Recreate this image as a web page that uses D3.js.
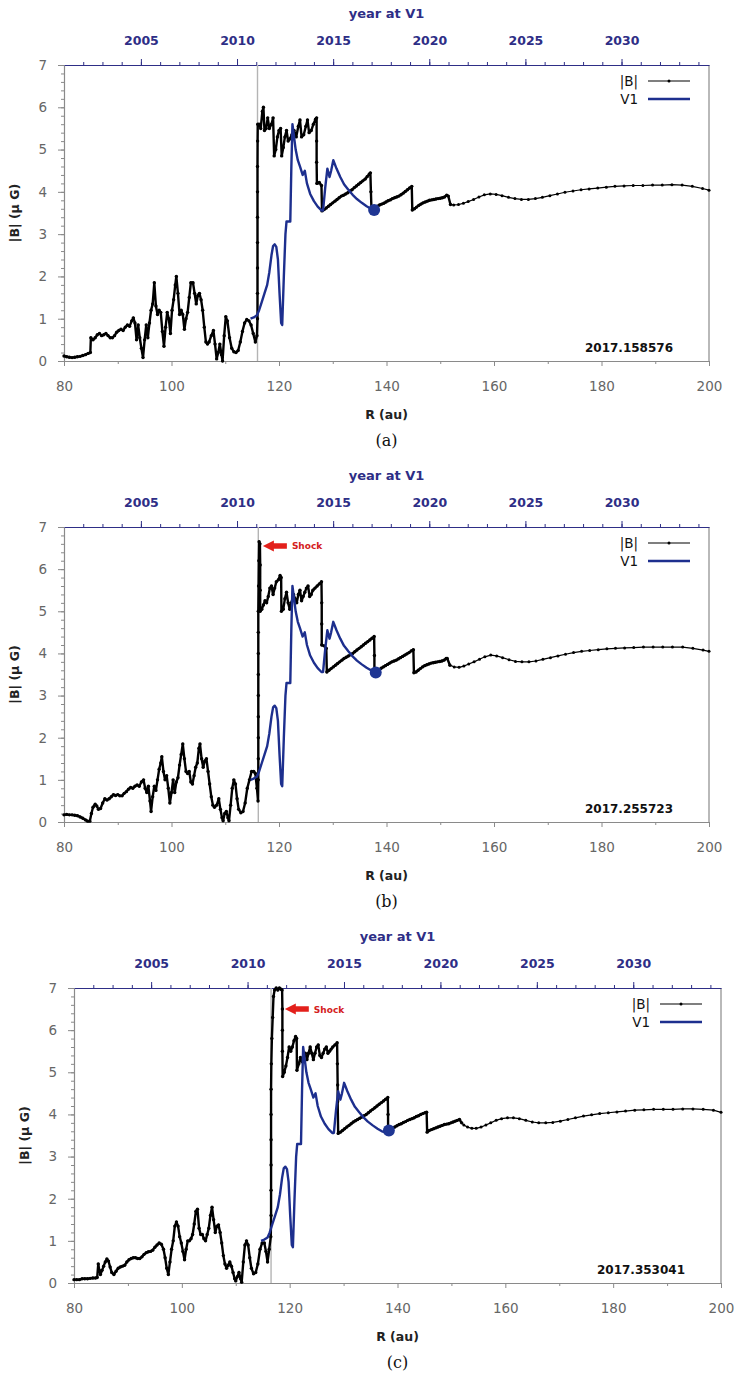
<!DOCTYPE html>
<html>
<head>
<meta charset="utf-8">
<script src="https://d3js.org/d3.v7.min.js"></script>
<style>
  body { margin: 0; background: #fff; }
  svg { display: block; }
</style>
</head>
<body>
<svg id="fig" width="737" height="1375"></svg>
<script>
// axis ticks
const rTicks = [80, 100, 120, 140, 160, 180, 200];
const rMinor = [90, 110, 130, 150, 170, 190];
const bTicks = [0, 1, 2, 3, 4, 5, 6, 7];
const yearTicks = [2005, 2010, 2015, 2020, 2025, 2030];
const yearRange = [2001.0, 2034.55];

// per-panel labels / markers
const timeLabels = ['2017.158576', '2017.255723', '2017.353041'];
const captions = ['(a)', '(b)', '(c)'];
const shockR = [116.0, 116.15, 116.55];
const dotR = [137.7, 138.0, 138.4];
const dotB = [3.57, 3.55, 3.62];
const shockArrow = [null, [117.0, 6.55], [119.1, 6.5]];
const denseLimit = 152; // simulation grid is much finer inside this radius

// V1 observations [R (au), |B| (uG)]
const v1 = [[114.7,1.0],[115.3,1.03],[115.9,1.08],[116.3,1.2],[116.8,1.4],[117.3,1.6],[117.8,1.8],[118.2,2.1],[118.6,2.5],[118.9,2.72],[119.2,2.76],[119.5,2.7],[119.8,2.4],[120.1,1.6],[120.4,0.9],[120.6,0.85],[120.9,2.0],[121.2,3.0],[121.4,3.3],[122.1,3.3],[122.3,4.6],[122.5,5.6],[122.8,5.3],[123.1,5.0],[123.5,4.75],[123.9,4.6],[124.4,4.4],[124.8,4.5],[125.2,4.2],[125.8,3.95],[126.5,3.78],[127.2,3.65],[127.9,3.56],[128.2,3.56],[128.6,4.1],[129.0,4.55],[129.4,4.35],[129.7,4.5],[130.1,4.75],[130.7,4.55],[131.4,4.35],[132.1,4.18],[132.9,4.05],[133.7,3.93],[134.5,3.83],[135.4,3.74],[136.3,3.66],[137.1,3.6],[137.9,3.57],[138.6,3.6]];

// model |B| along the V1 direction, panel (a)
const bA = [[80.0,0.12],[80.5,0.1],[81.0,0.09],[81.5,0.08],[82.0,0.09],[82.5,0.1],[83.0,0.11],[83.5,0.13],[84.0,0.15],[84.5,0.18],[84.9,0.2],[85.0,0.55],[85.4,0.5],[85.8,0.55],[86.2,0.62],[86.6,0.65],[87.0,0.6],[87.4,0.62],[87.8,0.65],[88.2,0.6],[88.6,0.55],[89.0,0.55],[89.4,0.6],[89.8,0.68],[90.2,0.72],[90.6,0.75],[91.0,0.72],[91.4,0.8],[91.8,0.85],[92.2,0.82],[92.6,0.95],[92.9,1.02],[93.2,0.9],[93.5,0.5],[93.8,0.85],[94.1,0.55],[94.4,0.3],[94.7,0.08],[95.0,0.5],[95.3,0.85],[95.6,0.55],[95.9,0.9],[96.2,1.2],[96.5,1.35],[96.8,1.85],[97.1,1.3],[97.4,1.1],[97.7,1.2],[98.0,1.15],[98.3,0.7],[98.6,0.35],[98.9,0.8],[99.2,1.15],[99.5,1.0],[99.8,0.65],[100.1,1.2],[100.4,1.45],[100.7,1.8],[100.9,2.0],[101.2,1.6],[101.5,1.1],[101.8,1.2],[102.1,1.1],[102.4,0.75],[102.7,1.0],[103.0,1.15],[103.3,1.5],[103.6,1.85],[104.0,1.85],[104.3,1.6],[104.6,1.35],[104.9,1.55],[105.2,1.6],[105.5,1.45],[105.8,1.2],[106.1,0.8],[106.4,0.45],[106.7,0.4],[107.0,0.45],[107.4,0.6],[107.8,0.72],[108.1,0.4],[108.4,0.05],[108.7,0.2],[109.0,0.4],[109.3,0.15],[109.5,0.0],[109.8,0.6],[110.1,1.05],[110.4,0.95],[110.8,0.55],[111.2,0.3],[111.6,0.22],[112.0,0.2],[112.4,0.25],[112.8,0.45],[113.2,0.7],[113.6,0.9],[114.0,0.98],[114.4,0.95],[114.8,0.85],[115.2,0.65],[115.6,0.45],[115.9,0.6],
  [116.0,1.0],[116.0,1.6],[116.0,2.2],[116.0,2.8],[116.0,3.4],[116.0,4.0],[116.0,4.6],[116.02,5.2],[116.05,5.6],[116.3,5.6],[116.6,5.5],[116.9,5.9],[117.1,6.0],[117.3,5.45],[117.6,5.5],[117.9,5.75],[118.2,5.5],[118.6,5.6],[118.9,5.75],[119.1,4.85],[119.4,5.0],[119.7,5.3],[120.0,5.45],[120.3,5.5],[120.5,4.85],[120.8,5.05],[121.1,5.3],[121.4,5.45],[121.7,5.2],[122.0,5.25],[122.4,5.35],[122.8,5.45],[123.2,5.3],[123.6,5.55],[123.9,5.7],[124.2,5.3],[124.6,5.35],[125.0,5.55],[125.3,5.7],[125.6,5.4],[126.0,5.45],[126.4,5.6],[126.8,5.72],[127.0,5.75],[127.0,5.2],[127.0,4.7],[127.05,4.2],[127.5,4.22],[127.9,4.15],[128.0,3.55],
  [128.4,3.58],[128.8,3.62],[129.2,3.66],[129.6,3.7],[130.0,3.74],[130.4,3.78],[130.8,3.82],[131.2,3.86],[131.6,3.9],[132.0,3.92],[132.4,3.95],[132.8,3.98],[133.2,4.02],[133.6,4.05],[134.0,4.1],[134.4,4.14],[134.8,4.18],[135.2,4.22],[135.6,4.26],[136.0,4.3],[136.4,4.36],[136.8,4.42],[137.0,4.45],[137.1,4.0],[137.2,3.6],
  [137.5,3.6],[137.9,3.62],[138.3,3.66],[138.7,3.69],[139.1,3.71],[139.5,3.73],[139.9,3.76],[140.3,3.79],[140.7,3.81],[141.1,3.84],[141.5,3.86],[141.9,3.88],[142.3,3.9],[142.7,3.93],[143.1,3.97],[143.5,4.01],[143.9,4.05],[144.3,4.09],[144.7,4.13],[144.8,3.57],[145.2,3.6],[145.6,3.64],[146.0,3.68],[146.4,3.71],[146.8,3.74],[147.2,3.76],[147.6,3.78],[148.0,3.8],[148.4,3.81],[148.8,3.82],[149.2,3.83],[149.6,3.84],[150.0,3.85],[150.4,3.86],[150.8,3.88],[151.2,3.92],[151.5,3.9],[151.9,3.7],
  [152.5,3.69],[153.4,3.7],[154.3,3.73],[155.2,3.77],[156.2,3.82],[157.2,3.88],[158.2,3.93],[159.3,3.95],[160.4,3.94],[161.5,3.91],[162.7,3.87],[163.9,3.84],[165.1,3.82],[166.4,3.82],[167.7,3.84],[169.0,3.87],[170.4,3.91],[171.8,3.95],[173.2,3.99],[174.7,4.02],[176.2,4.05],[177.7,4.07],[179.3,4.09],[180.9,4.11],[182.5,4.13],[184.2,4.14],[185.9,4.15],[187.7,4.15],[189.5,4.16],[191.3,4.16],[193.1,4.17],[195.0,4.16],[196.9,4.13],[198.8,4.08],[200.0,4.04]];

// panel (b)
const bB = [[80.0,0.17],[80.5,0.18],[81.0,0.17],[81.5,0.17],[82.0,0.16],[82.5,0.15],[83.0,0.12],[83.5,0.09],[84.0,0.05],[84.4,0.02],[84.8,0.02],[85.1,0.2],[85.4,0.35],[85.8,0.42],[86.1,0.38],[86.4,0.3],[86.8,0.32],[87.2,0.45],[87.6,0.55],[88.0,0.52],[88.4,0.55],[88.8,0.6],[89.2,0.65],[89.6,0.63],[90.0,0.65],[90.4,0.62],[90.8,0.62],[91.2,0.68],[91.6,0.72],[92.0,0.78],[92.4,0.82],[92.8,0.8],[93.2,0.85],[93.6,0.88],[94.0,0.85],[94.4,0.95],[94.8,1.0],[95.1,0.8],[95.4,0.7],[95.7,0.85],[96.0,0.5],[96.2,0.25],[96.5,0.6],[96.8,0.85],[97.1,0.75],[97.4,1.0],[97.7,1.25],[98.0,1.4],[98.2,1.55],[98.5,1.2],[98.8,1.0],[99.1,1.1],[99.4,0.8],[99.7,0.45],[100.0,0.7],[100.3,1.0],[100.6,0.7],[100.9,0.95],[101.2,1.05],[101.5,1.35],[101.8,1.6],[102.1,1.85],[102.4,1.5],[102.7,1.2],[103.0,1.15],[103.3,1.2],[103.6,0.95],[103.9,0.9],[104.2,1.1],[104.5,1.3],[104.8,1.4],[105.1,1.75],[105.3,1.85],[105.6,1.5],[105.9,1.3],[106.2,1.45],[106.5,1.5],[106.8,1.2],[107.1,0.9],[107.4,0.6],[107.7,0.4],[108.0,0.35],[108.4,0.4],[108.8,0.55],[109.1,0.3],[109.4,0.1],[109.6,0.03],[109.9,0.2],[110.2,0.25],[110.5,0.1],[110.7,0.03],[111.0,0.4],[111.3,0.8],[111.6,1.0],[111.9,0.9],[112.2,0.55],[112.5,0.3],[112.9,0.22],[113.3,0.25],[113.7,0.45],[114.1,0.8],[114.5,1.0],[114.9,1.2],[115.3,1.2],[115.6,1.15],[115.9,0.8],[116.1,0.5],
  [116.15,1.0],[116.15,1.5],[116.15,2.0],[116.15,2.5],[116.15,3.0],[116.15,3.5],[116.15,4.0],[116.15,4.5],[116.15,5.0],[116.2,5.6],[116.25,6.2],[116.3,6.65],[116.45,6.6],[116.5,6.1],[116.5,5.5],[116.5,5.0],
  [116.8,5.05],[117.1,5.15],[117.4,5.25],[117.7,5.2],[118.0,5.35],[118.3,5.55],[118.6,5.6],[118.9,5.4],[119.2,5.55],[119.5,5.7],[119.9,5.75],[120.2,5.85],[120.4,5.8],[120.45,5.0],[120.8,5.05],[121.1,5.3],[121.4,5.45],[121.7,5.2],[122.0,5.05],[122.3,5.2],[122.7,5.4],[123.0,5.3],[123.3,5.2],[123.6,5.4],[123.9,5.5],[124.2,5.25],[124.5,5.35],[124.8,5.45],[125.1,5.55],[125.4,5.6],[125.7,5.35],[126.0,5.4],[126.3,5.5],[126.7,5.55],[127.1,5.6],[127.5,5.65],[127.9,5.7],[127.95,5.2],[127.95,4.7],[127.95,4.2],[128.4,4.18],[128.8,4.12],[128.9,3.56],
  [129.3,3.6],[129.7,3.64],[130.1,3.68],[130.5,3.72],[130.9,3.76],[131.3,3.8],[131.7,3.84],[132.1,3.88],[132.5,3.91],[132.9,3.94],[133.3,3.97],[133.7,4.0],[134.1,4.04],[134.5,4.08],[134.9,4.12],[135.3,4.16],[135.7,4.2],[136.1,4.24],[136.5,4.28],[136.9,4.32],[137.3,4.36],[137.7,4.4],[137.75,3.95],[137.75,3.55],
  [138.2,3.57],[138.6,3.61],[139.0,3.65],[139.4,3.68],[139.8,3.71],[140.2,3.74],[140.6,3.77],[141.0,3.8],[141.4,3.82],[141.8,3.84],[142.2,3.87],[142.6,3.9],[143.0,3.93],[143.4,3.96],[143.8,3.99],[144.2,4.02],[144.6,4.06],[145.0,4.09],[145.1,3.54],[145.5,3.56],[145.9,3.6],[146.3,3.64],[146.7,3.68],[147.1,3.71],[147.5,3.73],[147.9,3.75],[148.3,3.77],[148.7,3.78],[149.1,3.79],[149.5,3.8],[149.9,3.81],[150.3,3.82],[150.7,3.84],[151.1,3.88],[151.3,3.88],[151.8,3.72],
  [152.6,3.68],[153.5,3.67],[154.4,3.7],[155.3,3.75],[156.3,3.8],[157.3,3.86],[158.3,3.92],[159.4,3.96],[160.5,3.94],[161.6,3.9],[162.8,3.85],[164.0,3.81],[165.2,3.8],[166.5,3.8],[167.8,3.82],[169.1,3.86],[170.5,3.9],[171.9,3.94],[173.3,3.98],[174.8,4.02],[176.3,4.05],[177.8,4.07],[179.4,4.09],[181.0,4.11],[182.6,4.12],[184.3,4.13],[186.0,4.14],[187.8,4.15],[189.6,4.15],[191.4,4.15],[193.2,4.15],[195.1,4.15],[197.0,4.12],[198.9,4.08],[200.0,4.05]];

// panel (c)
const bC = [[80.0,0.08],[80.5,0.08],[81.0,0.08],[81.5,0.1],[82.0,0.1],[82.5,0.1],[83.0,0.11],[83.5,0.12],[84.0,0.12],[84.3,0.13],[84.5,0.45],[84.7,0.3],[84.9,0.2],[85.2,0.3],[85.5,0.4],[85.8,0.5],[86.1,0.57],[86.4,0.52],[86.7,0.38],[87.0,0.25],[87.4,0.2],[87.8,0.28],[88.2,0.35],[88.6,0.38],[89.0,0.4],[89.4,0.42],[89.8,0.5],[90.2,0.55],[90.6,0.58],[91.0,0.6],[91.4,0.6],[91.8,0.58],[92.2,0.58],[92.6,0.62],[93.0,0.68],[93.4,0.72],[93.8,0.74],[94.2,0.75],[94.6,0.78],[95.0,0.85],[95.4,0.9],[95.8,0.95],[96.2,0.92],[96.6,0.8],[96.9,0.6],[97.2,0.35],[97.5,0.2],[97.8,0.5],[98.1,0.8],[98.4,1.0],[98.7,1.35],[99.0,1.45],[99.3,1.35],[99.6,1.1],[99.9,0.95],[100.2,0.75],[100.5,0.55],[100.8,0.8],[101.1,1.0],[101.4,1.0],[101.7,1.05],[102.0,1.15],[102.3,1.4],[102.6,1.7],[102.9,1.75],[103.2,1.3],[103.5,1.15],[103.8,1.15],[104.1,1.05],[104.4,1.0],[104.7,1.15],[105.0,1.3],[105.3,1.6],[105.6,1.8],[105.9,1.5],[106.2,1.2],[106.5,1.35],[106.8,1.38],[107.1,1.2],[107.4,0.95],[107.7,0.65],[108.0,0.45],[108.3,0.35],[108.6,0.42],[108.9,0.5],[109.2,0.4],[109.5,0.25],[109.8,0.1],[110.0,0.05],[110.3,0.15],[110.6,0.25],[110.9,0.1],[111.1,0.02],[111.4,0.5],[111.7,0.9],[112.0,1.0],[112.3,0.9],[112.6,0.6],[112.9,0.35],[113.3,0.22],[113.7,0.25],[114.1,0.45],[114.5,0.8],[114.9,0.95],[115.3,0.95],[115.6,0.75],[115.9,0.5],[116.2,0.8],[116.5,1.1],
  [116.55,1.6],[116.55,2.2],[116.55,2.8],[116.55,3.4],[116.55,4.0],[116.55,4.6],[116.6,5.2],[116.7,5.8],[116.85,6.3],[117.0,6.8],[117.2,6.95],[117.5,7.0],[117.8,6.95],[118.1,7.0],[118.4,6.97],[118.6,6.95],[118.65,6.5],[118.65,6.0],[118.65,5.5],[118.7,4.9],
  [119.0,5.0],[119.3,5.15],[119.6,5.35],[119.9,5.6],[120.2,5.5],[120.5,5.6],[120.8,5.75],[121.1,5.85],[121.3,5.8],[121.35,5.05],[121.7,5.2],[122.0,5.35],[122.3,5.25],[122.6,5.4],[122.9,5.45],[123.2,5.3],[123.5,5.45],[123.8,5.6],[124.1,5.45],[124.4,5.3],[124.7,5.45],[125.0,5.6],[125.3,5.65],[125.6,5.4],[125.9,5.35],[126.2,5.45],[126.5,5.55],[126.8,5.6],[127.1,5.45],[127.4,5.5],[127.7,5.55],[128.0,5.6],[128.4,5.65],[128.8,5.7],[128.85,5.2],[128.9,4.7],[128.9,4.3],[129.0,3.55],
  [129.4,3.58],[129.8,3.62],[130.2,3.66],[130.6,3.7],[131.0,3.74],[131.4,3.78],[131.8,3.82],[132.2,3.85],[132.6,3.88],[133.0,3.91],[133.4,3.94],[133.8,3.97],[134.2,4.0],[134.6,4.04],[135.0,4.08],[135.4,4.12],[135.8,4.16],[136.2,4.2],[136.6,4.24],[137.0,4.28],[137.4,4.32],[137.8,4.36],[138.2,4.4],[138.25,4.0],[138.25,3.62],
  [138.7,3.64],[139.1,3.68],[139.5,3.7],[139.9,3.73],[140.3,3.76],[140.7,3.78],[141.1,3.81],[141.5,3.83],[141.9,3.86],[142.3,3.88],[142.7,3.9],[143.1,3.92],[143.5,3.95],[143.9,3.97],[144.3,4.0],[144.7,4.02],[145.1,4.04],[145.4,4.05],[145.5,3.58],[145.9,3.62],[146.3,3.64],[146.7,3.66],[147.1,3.68],[147.5,3.7],[147.9,3.72],[148.3,3.74],[148.7,3.76],[149.1,3.77],[149.5,3.78],[149.9,3.8],[150.3,3.82],[150.7,3.84],[151.1,3.86],[151.5,3.88],[151.9,3.8],[152.3,3.75],
  [153.0,3.7],[153.8,3.67],[154.6,3.67],[155.5,3.7],[156.4,3.75],[157.3,3.8],[158.3,3.86],[159.3,3.9],[160.4,3.92],[161.5,3.92],[162.6,3.9],[163.8,3.86],[165.0,3.82],[166.2,3.8],[167.5,3.8],[168.8,3.81],[170.2,3.84],[171.6,3.88],[173.0,3.92],[174.5,3.96],[176.0,3.99],[177.5,4.02],[179.1,4.04],[180.7,4.06],[182.3,4.08],[184.0,4.1],[185.7,4.11],[187.5,4.12],[189.3,4.12],[191.1,4.12],[192.9,4.13],[194.8,4.13],[196.7,4.12],[198.6,4.1],[200.0,4.05]];

const series = [bA, bB, bC];

// panel frames in the page
const layout = [
  { left: 64, top: 65, width: 645, height: 296 },
  { left: 64, top: 527, width: 645, height: 295 },
  { left: 74, top: 988, width: 647, height: 295 },
];

const FONT = 'DejaVu Sans';
const GREY = '#8a8a8a';
const NAVY = '#2e2e86';
const BLUE = '#1d2f8e';

const svg = d3.select('#fig');

function styleAxis(sel, lineColor, textColor, size, weight) {
  sel.attr('font-family', FONT).attr('font-size', size);
  sel.select('.domain').attr('stroke', lineColor).attr('stroke-width', 1.2);
  sel.selectAll('.tick line').attr('stroke', lineColor).attr('stroke-width', 1);
  sel.selectAll('.tick text').attr('fill', textColor).attr('font-weight', weight);
}

layout.forEach((p, i) => {
  const x = d3.scaleLinear().domain([80, 200]).range([p.left, p.left + p.width]);
  const y = d3.scaleLinear().domain([0, 7]).range([p.top + p.height, p.top]);
  const yr = d3.scaleLinear().domain(yearRange).range([p.left, p.left + p.width]);
  const g = svg.append('g');

  // bottom axis
  g.append('g')
    .attr('transform', `translate(0,${p.top + p.height})`)
    .call(d3.axisBottom(x).tickValues(rMinor).tickSize(3).tickSizeOuter(0).tickFormat(''))
    .call(s => s.select('.domain').remove())
    .call(s => s.selectAll('line').attr('stroke', GREY));
  g.append('g')
    .attr('transform', `translate(0,${p.top + p.height})`)
    .call(d3.axisBottom(x).tickValues(rTicks).tickSize(5).tickSizeOuter(0).tickPadding(15))
    .call(s => styleAxis(s, GREY, '#666', 13.5, 'normal'));

  // left axis
  g.append('g')
    .attr('transform', `translate(${p.left},0)`)
    .call(d3.axisLeft(y).tickValues(d3.range(0, 7.01, 0.2)).tickSize(3).tickSizeOuter(0).tickFormat(''))
    .call(s => s.select('.domain').remove())
    .call(s => s.selectAll('line').attr('stroke', GREY));
  g.append('g')
    .attr('transform', `translate(${p.left},0)`)
    .call(d3.axisLeft(y).tickValues(bTicks).tickSize(6).tickSizeOuter(0).tickPadding(11).tickFormat(d3.format('d')))
    .call(s => styleAxis(s, GREY, '#666', 13.5, 'normal'));

  // right border
  g.append('line')
    .attr('x1', p.left + p.width).attr('x2', p.left + p.width)
    .attr('y1', p.top).attr('y2', p.top + p.height)
    .attr('stroke', GREY).attr('stroke-width', 1.2);

  // top axis: year at V1
  g.append('g')
    .attr('transform', `translate(0,${p.top})`)
    .call(d3.axisTop(yr).tickValues(d3.range(2002, 2035)).tickSize(3).tickSizeOuter(0).tickFormat(''))
    .call(s => s.select('.domain').remove())
    .call(s => s.selectAll('line').attr('stroke', NAVY));
  g.append('g')
    .attr('transform', `translate(0,${p.top})`)
    .call(d3.axisTop(yr).tickValues(yearTicks).tickSize(6).tickSizeOuter(0).tickPadding(14).tickFormat(d3.format('d')))
    .call(s => styleAxis(s, NAVY, NAVY, 12.5, 'bold'));

  g.append('text')
    .attr('x', p.left + p.width / 2).attr('y', p.top - 47)
    .attr('text-anchor', 'middle')
    .attr('font-family', FONT).attr('font-size', 13).attr('font-weight', 'bold')
    .attr('fill', NAVY)
    .text('year at V1');

  // axis titles
  g.append('text')
    .attr('transform', `translate(${p.left - 45},${p.top + p.height / 2}) rotate(-90)`)
    .attr('text-anchor', 'middle')
    .attr('font-family', FONT).attr('font-size', 12.5).attr('font-weight', 'bold')
    .attr('fill', '#222')
    .text('|B| (μ G)');
  g.append('text')
    .attr('x', p.left + p.width / 2).attr('y', p.top + p.height + 58)
    .attr('text-anchor', 'middle')
    .attr('font-family', FONT).attr('font-size', 12.5).attr('font-weight', 'bold')
    .attr('fill', '#222')
    .text('R (au)');
  g.append('text')
    .attr('x', p.left + p.width / 2).attr('y', p.top + p.height + 85)
    .attr('text-anchor', 'middle')
    .attr('font-family', 'DejaVu Serif').attr('font-size', 16)
    .attr('fill', '#111')
    .text(captions[i]);

  // shock position marker
  g.append('line')
    .attr('x1', x(shockR[i])).attr('x2', x(shockR[i]))
    .attr('y1', p.top).attr('y2', p.top + p.height)
    .attr('stroke', '#b4b4b4').attr('stroke-width', 1.4);

  // model |B|: fine grid drawn heavier, coarse outer grid thin
  const line = d3.line().x(d => x(d[0])).y(d => y(d[1]));
  const inner = series[i].filter(d => d[0] <= denseLimit);
  const outer = series[i].filter(d => d[0] >= inner[inner.length - 1][0]);
  g.append('path')
    .datum(inner)
    .attr('d', line)
    .attr('fill', 'none')
    .attr('stroke', '#000')
    .attr('stroke-width', 2.4)
    .attr('stroke-linejoin', 'round');
  g.append('path')
    .datum(outer)
    .attr('d', line)
    .attr('fill', 'none')
    .attr('stroke', '#000')
    .attr('stroke-width', 1.2);
  g.append('g')
    .selectAll('circle')
    .data(series[i])
    .enter()
    .append('circle')
    .attr('cx', d => x(d[0]))
    .attr('cy', d => y(d[1]))
    .attr('r', d => (d[0] <= denseLimit ? 1.7 : 1.5))
    .attr('fill', '#000');

  // V1 data up to current position
  const obs = v1.filter(d => d[0] < dotR[i]).concat([[dotR[i], dotB[i]]]);
  g.append('path')
    .datum(obs)
    .attr('d', line)
    .attr('fill', 'none')
    .attr('stroke', BLUE)
    .attr('stroke-width', 2.4)
    .attr('stroke-linejoin', 'round');
  g.append('circle')
    .attr('cx', x(dotR[i])).attr('cy', y(dotB[i]))
    .attr('r', 6)
    .attr('fill', '#1f3693');

  // time stamp
  g.append('text')
    .attr('x', p.left + p.width - 36).attr('y', p.top + p.height - 9)
    .attr('text-anchor', 'end')
    .attr('font-family', FONT).attr('font-size', 12).attr('font-weight', 'bold')
    .attr('fill', '#111')
    .text(timeLabels[i]);

  // legend
  const lx = p.left + p.width;
  const leg = [
    { label: '|B|', color: '#000', w: 1.2, dot: true, dy: 16 },
    { label: 'V1', color: BLUE, w: 2.6, dot: false, dy: 34 },
  ];
  leg.forEach(l => {
    g.append('text')
      .attr('x', lx - 71).attr('y', p.top + l.dy + 5)
      .attr('text-anchor', 'end')
      .attr('font-family', FONT).attr('font-size', 13.5)
      .attr('fill', '#111')
      .text(l.label);
    g.append('line')
      .attr('x1', lx - 61).attr('x2', lx - 19)
      .attr('y1', p.top + l.dy).attr('y2', p.top + l.dy)
      .attr('stroke', l.color).attr('stroke-width', l.w);
    if (l.dot) {
      g.append('circle')
        .attr('cx', lx - 40).attr('cy', p.top + l.dy)
        .attr('r', 1.5).attr('fill', '#000');
    }
  });

  // shock annotation
  if (shockArrow[i]) {
    const ax = x(shockArrow[i][0]);
    const ay = y(shockArrow[i][1]);
    const pts = [[0, 0], [11, -5.5], [11, -2.7], [24, -2.7], [24, 2.7], [11, 2.7], [11, 5.5]];
    g.append('polygon')
      .attr('points', pts.map(q => `${ax + q[0]},${ay + q[1]}`).join(' '))
      .attr('fill', '#e3201b');
    g.append('text')
      .attr('x', ax + 29).attr('y', ay + 3.5)
      .attr('font-family', FONT).attr('font-size', 9).attr('font-weight', 'bold')
      .attr('fill', '#d42020')
      .text('Shock');
  }
});
</script>
</body>
</html>
